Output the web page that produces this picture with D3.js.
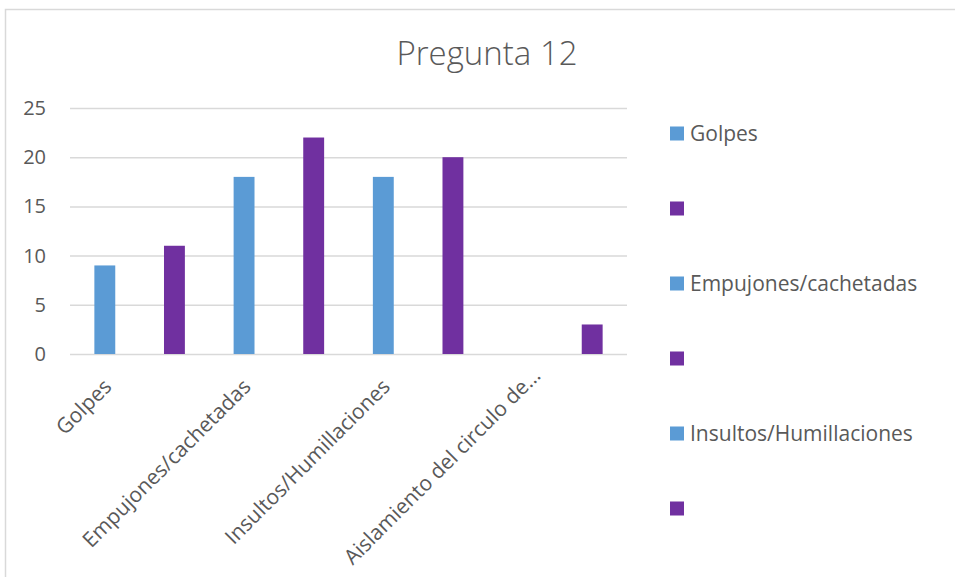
<!DOCTYPE html>
<html>
<head>
<meta charset="utf-8">
<script src="https://cdn.jsdelivr.net/npm/d3@7"></script>
<style>
  body { margin: 0; background: #fff; }
  svg { display: block; font-family: "Open Sans", sans-serif; }
</style>
</head>
<body>
<svg width="955" height="577"></svg>
<script>
// data
var categories = ["Golpes", "", "Empujones/cachetadas", "", "Insultos/Humillaciones", "", "Aislamiento del circulo de\u2026", ""];
var values = [9, 11, 18, 22, 18, 20, 0, 3];
var colors = ["#5B9BD5", "#7030A0"];
var yTicks = [0, 5, 10, 15, 20, 25];
var legendCount = 6; // legend is cut off after six entries

var svg = d3.select("svg");
var margin = {top: 108, left: 70, right: 328, bottom: 223};
var width = 955 - margin.left - margin.right;
var height = 577 - margin.top - margin.bottom;

// chart area border (cropped at the right and bottom)
svg.append("path")
  .attr("d", "M5.5,577V9.5H955")
  .attr("fill", "none")
  .attr("stroke", "#d9d9d9")
  .attr("stroke-width", 1.5);

svg.append("text")
  .attr("x", 487)
  .attr("y", 65)
  .attr("text-anchor", "middle")
  .attr("font-size", 33)
  .attr("font-weight", 300)
  .attr("fill", "#595959")
  .text("Pregunta 12");

var g = svg.append("g").attr("transform", "translate(" + margin.left + "," + margin.top + ")");

var x = d3.scaleBand()
  .domain(d3.range(categories.length))
  .range([0, width])
  .paddingInner(0.7)
  .paddingOuter(0.35);

var y = d3.scaleLinear()
  .domain([0, 25])
  .range([height, 0]);

var yAxis = g.append("g")
  .call(d3.axisLeft(y).tickValues(yTicks).tickSize(-width).tickPadding(24));
yAxis.select(".domain").remove();
yAxis.selectAll("line").attr("stroke", "#d9d9d9").attr("stroke-width", 1.5);
yAxis.selectAll("text")
  .attr("fill", "#595959")
  .attr("font-size", 20)
  .attr("font-family", "Open Sans, sans-serif");

g.selectAll(".bar")
  .data(values)
  .enter().append("rect")
    .attr("class", "bar")
    .attr("x", function(d, i) { return x(i); })
    .attr("y", function(d) { return y(d); })
    .attr("width", x.bandwidth())
    .attr("height", function(d) { return height - y(d); })
    .attr("fill", function(d, i) { return colors[i % 2]; });

// category labels, rotated 45 degrees, ending under each tick
var xAxis = g.append("g")
  .attr("transform", "translate(0," + height + ")")
  .call(d3.axisBottom(x).tickSize(0).tickFormat(function(i) { return categories[i]; }));
xAxis.select(".domain").remove();
xAxis.selectAll("text")
  .attr("fill", "#595959")
  .attr("font-size", 21)
  .attr("font-family", "Open Sans, sans-serif")
  .attr("text-anchor", "end")
  .attr("dy", null)
  .attr("y", 0)
  // truncated labels sit a bit further out, like in the original
  .attr("dx", function(i) { return /\u2026$/.test(categories[i]) ? "0.75em" : 0; })
  .attr("transform", "translate(8,34) rotate(-45)");

// legend
var legend = svg.append("g")
  .selectAll("g")
  .data(categories.slice(0, legendCount))
  .enter().append("g")
    .attr("transform", function(d, i) { return "translate(670," + (133.5 + i * 75) + ")"; });

legend.append("rect")
  .attr("y", -7)
  .attr("width", 14)
  .attr("height", 14)
  .attr("fill", function(d, i) { return colors[i % 2]; });

legend.append("text")
  .attr("x", 20)
  .attr("dy", "0.35em")
  .attr("font-size", 21)
  .attr("fill", "#595959")
  .text(function(d) { return d; });
</script>
</body>
</html>
